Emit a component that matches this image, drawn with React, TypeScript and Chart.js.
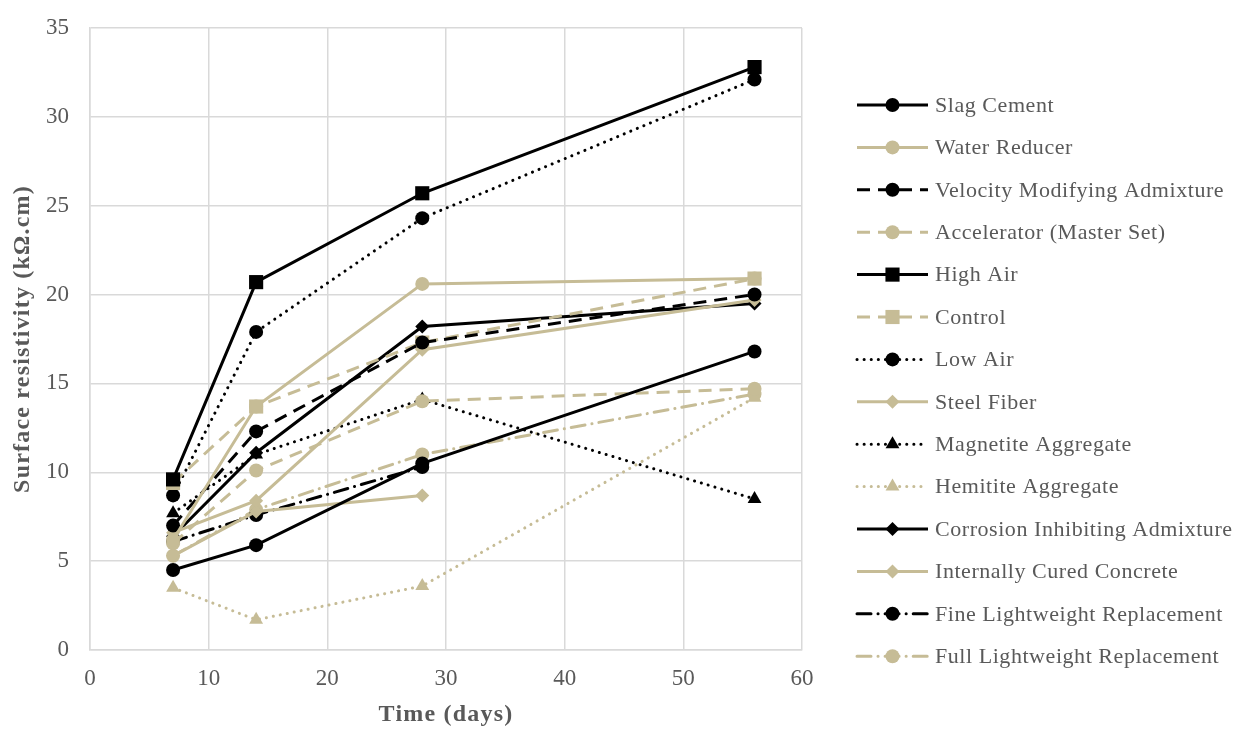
import React, { useEffect, useRef } from "react";
import { Chart, registerables } from "chart.js";

Chart.register(...registerables);

const days = [7, 14, 28, 56];
const xTicks = [0, 10, 20, 30, 40, 50, 60];
const yTicks = [0, 5, 10, 15, 20, 25, 30, 35];

const slagCement = [4.5, 5.9, 10.5, 16.8];
const waterReducer = [6.2, 13.7, 20.6, 20.9];
const velocityModifying = [7.0, 12.3, 17.3, 20.0];
const accelerator = [6.0, 10.1, 14.0, 14.7];
const highAir = [9.6, 20.7, 25.7, 32.8];
const control = [9.4, 13.7, 17.3, 20.9];
const lowAir = [8.7, 17.9, 24.3, 32.1];
const steelFiber = [6.6, 8.4, 16.9, 19.7];
const magnetite = [7.7, 11.0, 14.1, 8.5];
const hemitite = [3.5, 1.7, 3.6, 14.2];
const corrosion = [6.4, 11.1, 18.2, 19.5];
const internallyCured = [5.3, 7.8, 8.7, null];
const fineLightweight = [6.1, 7.6, 10.3, null];
const fullLightweight = [5.3, 7.9, 11.0, 14.4];

const xTitle = "Time (days)";
const yTitle = "Surface resistivity (kΩ.cm)";

const BLACK = "#000000";
const TAN = "#c6bc96";
const TEXT = "#595959";
const FONT = "'Liberation Serif', 'Times New Roman', serif";

const SOLID: number[] = [];
const DASH = [13, 8];
const DOT = [0.1, 7];
const DASHDOT = [14, 7, 0.1, 7];

type S = { label: string; data: (number | null)[]; color: string; dash: number[]; style: string; r: number };

const series: S[] = [
  { label: "Slag Cement", data: slagCement, color: BLACK, dash: SOLID, style: "circle", r: 7 },
  { label: "Water Reducer", data: waterReducer, color: TAN, dash: SOLID, style: "circle", r: 7 },
  { label: "Velocity Modifying Admixture", data: velocityModifying, color: BLACK, dash: DASH, style: "circle", r: 7 },
  { label: "Accelerator (Master Set)", data: accelerator, color: TAN, dash: DASH, style: "circle", r: 7 },
  { label: "High Air", data: highAir, color: BLACK, dash: SOLID, style: "rect", r: 10 },
  { label: "Control", data: control, color: TAN, dash: DASH, style: "rect", r: 10 },
  { label: "Low Air", data: lowAir, color: BLACK, dash: DOT, style: "circle", r: 7 },
  { label: "Steel Fiber", data: steelFiber, color: TAN, dash: SOLID, style: "rectRot", r: 7 },
  { label: "Magnetite Aggregate", data: magnetite, color: BLACK, dash: DOT, style: "triangle", r: 8 },
  { label: "Hemitite Aggregate", data: hemitite, color: TAN, dash: DOT, style: "triangle", r: 8 },
  { label: "Corrosion Inhibiting Admixture", data: corrosion, color: BLACK, dash: SOLID, style: "rectRot", r: 7 },
  { label: "Internally Cured Concrete", data: internallyCured, color: TAN, dash: SOLID, style: "rectRot", r: 7 },
  { label: "Fine Lightweight Replacement", data: fineLightweight, color: BLACK, dash: DASHDOT, style: "circle", r: 7 },
  { label: "Full Lightweight Replacement", data: fullLightweight, color: TAN, dash: DASHDOT, style: "circle", r: 7 },
];

function drawMarker(ctx: CanvasRenderingContext2D, style: string, x: number, y: number, r: number) {
  ctx.beginPath();
  if (style === "circle") {
    ctx.arc(x, y, r, 0, Math.PI * 2);
  } else if (style === "rect") {
    const s = Math.SQRT1_2 * r;
    ctx.rect(x - s, y - s, 2 * s, 2 * s);
  } else if (style === "rectRot") {
    ctx.moveTo(x - r, y);
    ctx.lineTo(x, y + r);
    ctx.lineTo(x + r, y);
    ctx.lineTo(x, y - r);
    ctx.closePath();
  } else if (style === "triangle") {
    ctx.moveTo(x, y - r);
    ctx.lineTo(x + Math.sin((2 * Math.PI) / 3) * r, y - Math.cos((2 * Math.PI) / 3) * r);
    ctx.lineTo(x - Math.sin((2 * Math.PI) / 3) * r, y - Math.cos((2 * Math.PI) / 3) * r);
    ctx.closePath();
  }
  ctx.fill();
}

const legendPlugin = {
  id: "customLegend",
  afterDraw(chart: any) {
    const ctx: any = chart.ctx;
    const x0 = 849;
    const x1 = 920;
    const tx = 927;
    const y0 = 97;
    const step = 42.4;
    ctx.save();
    series.forEach((s, i) => {
      const y = y0 + i * step;
      ctx.strokeStyle = s.color;
      ctx.fillStyle = s.color;
      ctx.lineWidth = 3;
      ctx.lineCap = s.dash === DOT || s.dash === DASHDOT ? "round" : "butt";
      ctx.setLineDash(s.dash);
      ctx.beginPath();
      ctx.moveTo(x0, y);
      ctx.lineTo(x1, y);
      ctx.stroke();
      ctx.setLineDash([]);
      drawMarker(ctx, s.style, (x0 + x1) / 2, y, s.r);
      ctx.fillStyle = TEXT;
      ctx.font = `22px ${FONT}`;
      ctx.letterSpacing = "0.55px";
      ctx.textBaseline = "middle";
      ctx.textAlign = "left";
      ctx.fillText(s.label, tx, y + 1);
    });
    // axis titles
    const area = chart.chartArea;
    ctx.font = `bold 24px ${FONT}`;
    ctx.letterSpacing = "1.2px";
    ctx.fillStyle = TEXT;
    ctx.textAlign = "center";
    ctx.textBaseline = "middle";
    ctx.fillText(xTitle, (area.left + area.right) / 2, 707);
    ctx.save();
    ctx.translate(15, (area.top + area.bottom) / 2);
    ctx.rotate(-Math.PI / 2);
    ctx.fillText(yTitle, 0, 0);
    ctx.restore();
    ctx.restore();
  },
};

export default function App() {
  const ref = useRef<HTMLCanvasElement | null>(null);
  useEffect(() => {
    if (!ref.current) return;
    const chart = new Chart(ref.current, {
      type: "line",
      data: {
        datasets: series.map((s) => ({
          label: s.label,
          data: days.map((d, i) => ({ x: d, y: s.data[i] })),
          borderColor: s.color,
          backgroundColor: s.color,
          pointBackgroundColor: s.color,
          pointBorderColor: s.color,
          pointBorderWidth: 0,
          borderWidth: 3,
          borderDash: s.dash,
          borderCapStyle: s.dash === DOT || s.dash === DASHDOT ? "round" : "butt",
          pointStyle: s.style as any,
          pointRadius: s.r,
          pointHoverRadius: s.r,
          tension: 0,
          spanGaps: false,
          fill: false,
        })),
      },
      options: {
        animation: false,
        responsive: true,
        maintainAspectRatio: false,
        layout: { padding: { left: 0, right: 431, top: 20, bottom: 0 } },
        plugins: {
          legend: { display: false },
          tooltip: { enabled: false },
        },
        scales: {
          x: {
            type: "linear",
            min: 0,
            max: 60,
            afterBuildTicks: (axis: any) => {
              axis.ticks = xTicks.map((v) => ({ value: v }));
            },
            afterFit: (axis: any) => {
              axis.height = 82;
              axis.paddingLeft = 0;
              axis.paddingRight = 0;
            },
            grid: { color: "#d9d9d9", lineWidth: 1.5, drawTicks: false },
            border: { color: "#d9d9d9", width: 1.5 },
            ticks: { color: TEXT, font: { family: FONT, size: 23 }, padding: 15 },
          },
          y: {
            type: "linear",
            min: 0,
            max: 35,
            afterBuildTicks: (axis: any) => {
              axis.ticks = yTicks.map((v) => ({ value: v }));
            },
            afterFit: (axis: any) => {
              axis.width = 82;
              axis.paddingTop = 0;
              axis.paddingBottom = 0;
            },
            grid: { color: "#d9d9d9", lineWidth: 1.5, drawTicks: false },
            border: { color: "#d9d9d9", width: 1.5 },
            ticks: { color: TEXT, font: { family: FONT, size: 23 }, padding: 21 },
          },
        },
      },
      plugins: [legendPlugin],
    });
    return () => chart.destroy();
  }, []);
  return (
    <div style={{ position: "relative", width: "100%", height: 724 }}>
      <canvas ref={ref} />
    </div>
  );
}
